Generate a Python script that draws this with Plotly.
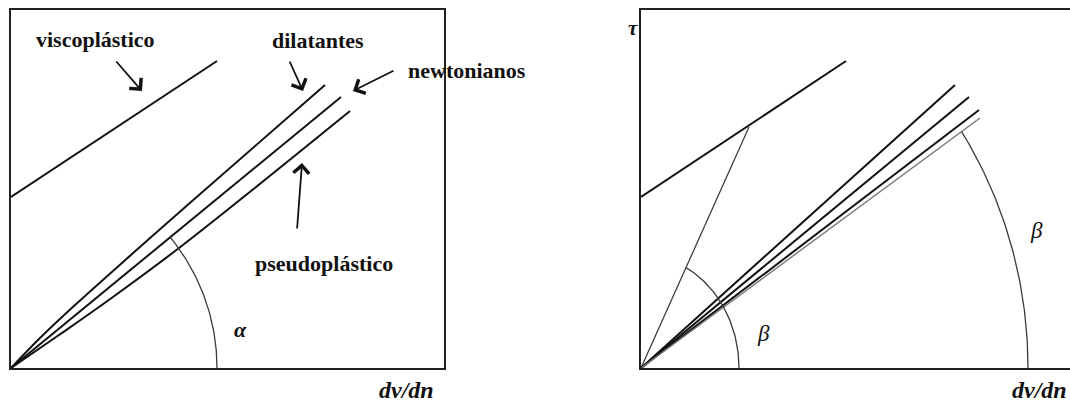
import numpy as np
import plotly.graph_objects as go

W, H = 1070, 405

# ---------------- data (units = drawing units of each panel) ----------------
# left panel
visco_x = [0, 206]
visco_y = [171, 307]
dil_x = [0, 30, 64, 121, 180, 314]
dil_y = [0, 31, 63, 114, 166, 283]
newt_x = [0, 330]
newt_y = [0, 271]
pseudo_x = [0, 48, 95, 168, 339]
pseudo_y = [0, 33, 66, 120, 257]
alpha_radius = 206

# right panel
r_visco_x = [0, 205]
r_visco_y = [171, 307]
r_black_end_x = [314, 328, 338]
r_black_end_y = [283, 271, 258]
r_gray_end = [339, 250]
r_chord_end = [108, 241]
small_arc_rx, small_arc_ry = 98, 113
big_arc_rx, big_arc_ry = 387, 422

# panel geometry in pixels
L_left, L_right, top, bottom = 11, 444, 10, 368
R_left, R_right = 641, 1070


def px(x):
    return x / W


def py(y):
    return 1 - y / H


fig = go.Figure()
line_k = dict(color="#111111", width=2)
arc_k = dict(color="#3a3a3a", width=1.3)


def add(x, y, ax="x", ay="y", line=line_k, shape="linear"):
    fig.add_trace(go.Scatter(x=x, y=y, mode="lines", xaxis=ax, yaxis=ay,
                             line=dict(shape=shape, **line), hoverinfo="skip",
                             showlegend=False))


def ellipse_arc(rx, ry, tx, ty):
    # arc from the x axis up to the direction (tx, ty)
    t_end = np.arctan2(ty * rx, tx * ry)
    t = np.linspace(0, t_end, 60)
    return rx * np.cos(t), ry * np.sin(t)


# left panel marks
add(visco_x, visco_y)
add(dil_x, dil_y, shape="spline")
add(newt_x, newt_y)
add(pseudo_x, pseudo_y, shape="spline")
ax_, ay_ = ellipse_arc(alpha_radius, alpha_radius, newt_x[1], newt_y[1])
add(ax_, ay_, line=arc_k)

# right panel marks
add(r_visco_x, r_visco_y, "x2", "y2")
for ex, ey in zip(r_black_end_x, r_black_end_y):
    add([0, ex], [0, ey], "x2", "y2")
add([0, r_gray_end[0]], [0, r_gray_end[1]], "x2", "y2", line=dict(color="#777777", width=1.4))
add([0, r_chord_end[0]], [0, r_chord_end[1]], "x2", "y2", line=dict(color="#333333", width=1.2))
sx, sy = ellipse_arc(small_arc_rx, small_arc_ry, *r_chord_end)
add(sx, sy, "x2", "y2", line=arc_k)
bx, by = ellipse_arc(big_arc_rx, big_arc_ry, *r_gray_end)
add(bx, by, "x2", "y2", line=arc_k)

axis_common = dict(showgrid=False, zeroline=False, showticklabels=False, ticks="",
                   fixedrange=True, showline=True, linecolor="#222222", linewidth=2)

fig.update_layout(
    width=W, height=H, margin=dict(l=0, r=0, t=0, b=0),
    paper_bgcolor="white", plot_bgcolor="white",
    xaxis=dict(domain=[px(L_left), px(L_right)], range=[0, L_right - L_left],
               mirror=True, anchor="y", **axis_common),
    yaxis=dict(domain=[py(bottom), py(top)], range=[0, bottom - top],
               mirror=True, anchor="x", **axis_common),
    xaxis2=dict(domain=[px(R_left), 1], range=[0, R_right - R_left],
                mirror=True, anchor="y2", **axis_common),
    yaxis2=dict(domain=[py(bottom), py(top)], range=[0, bottom - top],
                mirror=False, anchor="x2", **axis_common),
)

serif = "Liberation Serif, Times New Roman, serif"


def text(s, x, y, size=22, xanchor="center"):
    fig.add_annotation(text=s, x=px(x), y=py(y), xref="paper", yref="paper",
                       showarrow=False, xanchor=xanchor, yanchor="middle",
                       font=dict(family=serif, size=size, color="#111111"))


text("<b>viscoplástico</b>", 96, 39)
text("<b>dilatantes</b>", 318, 40)
text("<b>newtonianos</b>", 406, 70, xanchor="left")
text("<b>pseudoplástico</b>", 324, 263)
text("<b><i>α</i></b>", 240, 329, size=22)
text("<b><i>dv/dn</i></b>", 406, 390, size=24)
text("<b><i>dv/dn</i></b>", 1039, 390, size=24)
text("<b><i>τ</i></b>", 633, 28, size=21)
text("<i>β</i>", 763, 333, size=23)
text("<i>β</i>", 1036, 230, size=23)


def arrow(tail, head):
    fig.add_annotation(x=px(head[0]), y=py(head[1]),
                       ax=tail[0] - head[0], ay=tail[1] - head[1],
                       xref="paper", yref="paper", axref="pixel", ayref="pixel",
                       text="", showarrow=True, arrowhead=4, arrowsize=1.7,
                       arrowwidth=1.8, arrowcolor="#111111")


arrow((115, 60), (142, 91))
arrow((289, 60), (303, 91))
arrow((395, 70), (353, 91))
arrow((297, 230), (302, 163))

fig.write_html("out.html", config={"displayModeBar": False, "staticPlot": True},
               post_script="document.body.style.margin='0';document.body.style.padding='0';")
